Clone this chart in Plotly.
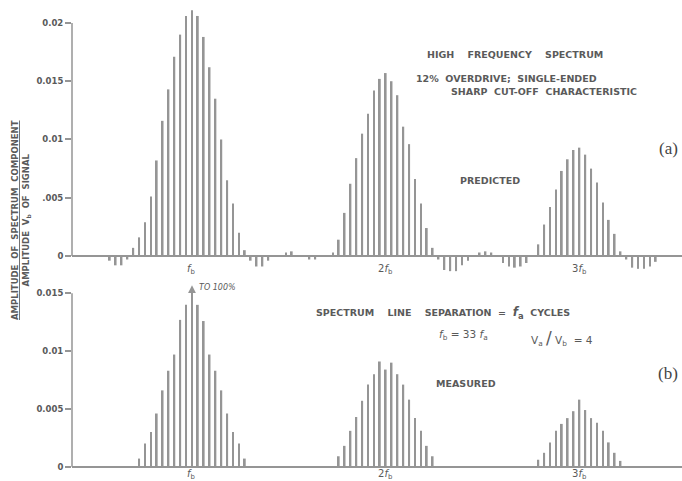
import plotly.graph_objects as go

# ---- data (line index in units of f_a ; f_b = 33 f_a) ----
pred_n = [19, 20, 21, 22,
          23, 24, 25, 26, 27, 28, 29, 30, 31, 32, 33, 34, 35, 36, 37, 38, 39, 40, 41, 42,
          43, 44, 45, 46, 49, 50, 53, 54, 57, 58,
          59, 60, 61, 62, 63, 64, 65, 66, 67, 68, 69, 70, 71, 72, 73, 74,
          75, 76, 77, 78, 79, 80, 82, 83, 84, 86, 87, 88, 89, 90,
          92, 93, 94, 95, 96, 97, 98, 99, 100, 101, 102, 103, 104, 105, 106,
          107, 108, 109, 110, 111, 112]
pred_amp = [-0.0004, -0.0008, -0.0008, -0.0003,
            0.0007, 0.0016, 0.0029, 0.0051, 0.0082, 0.0116, 0.0143, 0.0171, 0.0190, 0.0206,
            0.0211, 0.0206, 0.0188, 0.0162, 0.0135, 0.0100, 0.0065, 0.0045, 0.0020, 0.0005,
            -0.0004, -0.0009, -0.0009, -0.0004, 0.0003, 0.0004, -0.0003, -0.0003, 0.0003, 0.0014,
            0.0037, 0.0062, 0.0084, 0.0105, 0.0122, 0.0142, 0.0152, 0.0157, 0.0150, 0.0138,
            0.0111, 0.0096, 0.0066, 0.0045, 0.0024, 0.0007,
            -0.0003, -0.0012, -0.0013, -0.0013, -0.0008, -0.0004, 0.0003, 0.0004, 0.0003,
            -0.0006, -0.0009, -0.0010, -0.0009, -0.0006,
            0.0010, 0.0027, 0.0042, 0.0057, 0.0073, 0.0083, 0.0091, 0.0093, 0.0087, 0.0075,
            0.0063, 0.0046, 0.0031, 0.0019, 0.0004,
            -0.0003, -0.0010, -0.0011, -0.0011, -0.0009, -0.0005]

meas_n = [24, 25, 26, 27, 28, 29, 30, 31, 32, 33, 34, 35, 36, 37, 38, 39, 40, 41, 42,
          58, 59, 60, 61, 62, 63, 64, 65, 66, 67, 68, 69, 70, 71, 72, 73, 74,
          92, 93, 94, 95, 96, 97, 98, 99, 100, 101, 102, 103, 104, 105, 106]
meas_amp = [0.0007, 0.0020, 0.0030, 0.0046, 0.0066, 0.0083, 0.0097, 0.0127, 0.0140, 0.0154,
            0.0140, 0.0126, 0.0097, 0.0083, 0.0066, 0.0046, 0.0030, 0.0020, 0.0007,
            0.0009, 0.0018, 0.0031, 0.0043, 0.0057, 0.0071, 0.0080, 0.0091, 0.0084, 0.0090,
            0.0080, 0.0071, 0.0058, 0.0042, 0.0031, 0.0018, 0.0009,
            0.0006, 0.0012, 0.0021, 0.0031, 0.0037, 0.0042, 0.0048, 0.0058, 0.0049, 0.0042,
            0.0038, 0.0031, 0.0021, 0.0012, 0.0005]

harm_n = [33, 66, 99]
harm_labels = ["<i>f</i><sub>b</sub>", "2<i>f</i><sub>b</sub>", "3<i>f</i><sub>b</sub>"]

top_tickvals = [0, 0.005, 0.01, 0.015, 0.02]
top_ticktext = ["0", ".005", "0.01", "0.015", "0.02"]
bot_tickvals = [0, 0.005, 0.01, 0.015]
bot_ticktext = ["0", "0.005", "0.01", "0.015"]

# ---- style ----
W, H = 682, 481
ML = 72
LINE = "#959595"
TXT = "#5a5a5a"
FONT = "DejaVu Sans"


def px(xp):
    return (xp - ML) / (W - ML)


def py(yp):
    return 1 - yp / H


fig = go.Figure()
fig.add_trace(go.Bar(x=pred_n, y=pred_amp, width=0.3, marker=dict(color=LINE, line=dict(width=0)),
                     xaxis="x", yaxis="y", hoverinfo="x+y"))
fig.add_trace(go.Bar(x=meas_n, y=meas_amp, width=0.3, marker=dict(color=LINE, line=dict(width=0)),
                     xaxis="x2", yaxis="y2", hoverinfo="x+y"))

xr = [12.56, 116.47]
common_x = dict(range=xr, showticklabels=False, showgrid=False, zeroline=False, showline=False,
                ticks="", fixedrange=True)
common_y = dict(showgrid=False, showline=False, ticks="outside", ticklen=6, tickwidth=1.5,
                tickcolor=LINE, zeroline=True, zerolinecolor=LINE, zerolinewidth=1.5,
                tickfont=dict(family=FONT, size=8.5, color=TXT, weight="bold"))

fig.update_layout(
    width=W, height=H,
    margin=dict(l=ML, r=0, t=0, b=0),
    paper_bgcolor="white", plot_bgcolor="white",
    showlegend=False,
    xaxis=dict(domain=[0, 1], anchor="y", **common_x),
    xaxis2=dict(domain=[0, 1], anchor="y2", **common_x),
    yaxis=dict(domain=[py(275), 1], range=[-0.00163, 0.02197], anchor="x",
               tickvals=top_tickvals, ticktext=top_ticktext, **common_y),
    yaxis2=dict(domain=[0, py(280)], range=[-0.00124, 0.01615], anchor="x2",
                tickvals=bot_tickvals, ticktext=bot_ticktext, **common_y),
)

# vertical axis lines (0 to top tick)
fig.add_shape(type="line", xref="paper", yref="y", x0=0, x1=0, y0=0, y1=0.02,
              line=dict(color=LINE, width=1.5))
fig.add_shape(type="line", xref="paper", yref="y2", x0=0, x1=0, y0=0, y1=0.015,
              line=dict(color=LINE, width=1.5))

ann = []
# harmonic labels under baselines
for n, lab in zip(harm_n, harm_labels):
    ann.append(dict(x=n, y=0, xref="x", yref="y", text=lab, showarrow=False, yshift=-13,
                    font=dict(family=FONT, size=10, color=TXT)))
    ann.append(dict(x=n, y=0, xref="x2", yref="y2", text=lab, showarrow=False, yshift=-8,
                    font=dict(family=FONT, size=10, color=TXT)))

sp = "&nbsp;&nbsp;&nbsp;&nbsp;"
sp2 = "&nbsp;&nbsp;"
small = dict(family=FONT, size=9.5, color=TXT, weight="bold")


def txt(x, y, s, font=small):
    ann.append(dict(x=px(x), y=py(y), xref="paper", yref="paper", text=s, showarrow=False,
                    xanchor="center", yanchor="middle", font=font))


txt(515, 54, "HIGH" + sp + "FREQUENCY" + sp + "SPECTRUM")
txt(506, 78, "12%" + sp2 + "OVERDRIVE;" + sp2 + "SINGLE-ENDED")
txt(544, 91, "SHARP" + sp2 + "CUT-OFF" + sp2 + "CHARACTERISTIC")
txt(490, 180, "PREDICTED")
txt(668, 149, "(a)", dict(family="Liberation Serif", size=17, color="#444"))

txt(443, 313, "SPECTRUM" + sp + "LINE" + sp + "SEPARATION" + sp2 + "=" + sp2 +
    "<span style='font-size:12px'><i>f</i><sub>a</sub></span>" + sp2 + "CYCLES")
txt(463, 335, "<i>f</i><sub>b</sub> = 33 <i>f</i><sub>a</sub>",
    dict(family=FONT, size=10.5, color=TXT))
txt(562, 338, "V<sub>a</sub>&nbsp;<span style='font-size:17px'>/</span>&nbsp;V<sub>b</sub>&nbsp;&nbsp;=&nbsp;4",
    dict(family=FONT, size=10.5, color=TXT))
txt(668, 373, "(b)", dict(family="Liberation Serif", size=17, color="#444"))
txt(466, 383, "MEASURED")

# arrow on the carrier line, measured panel
ann.append(dict(x=33, y=0.0157, xref="x2", yref="y2", ax=33, ay=0.0135, axref="x2", ayref="y2",
                text="", showarrow=True, arrowhead=2, arrowsize=1.2, arrowwidth=1.3,
                arrowcolor=LINE))
ann.append(dict(x=33.8, y=0.0155, xref="x2", yref="y2", text="<i>TO 100%</i>", showarrow=False,
                xanchor="left", yanchor="middle", font=dict(family=FONT, size=8, color=TXT)))

# y-axis title (rotated, fraction)
ann.append(dict(x=px(21), y=py(220), xref="paper", yref="paper", textangle=-90,
                text="<u>AMPLITUDE&nbsp;&nbsp;OF&nbsp;&nbsp;SPECTRUM&nbsp;&nbsp;COMPONENT</u><br>"
                     "AMPLITUDE&nbsp;&nbsp;V<sub>b</sub>&nbsp;&nbsp;OF&nbsp;&nbsp;SIGNAL",
                showarrow=False, xanchor="center", yanchor="middle",
                font=dict(family=FONT, size=8.5, color=TXT, weight="bold")))

fig.update_layout(annotations=ann)
fig.write_html("out.html", config={"displayModeBar": False},
               post_script="document.body.style.margin='0';document.body.style.overflow='hidden';")
